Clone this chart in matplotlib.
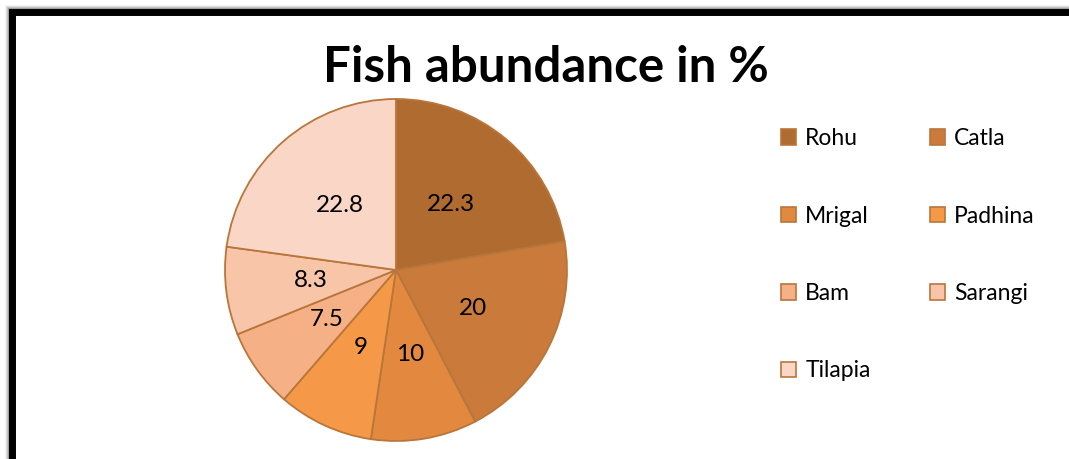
import matplotlib
matplotlib.use("Agg")
import matplotlib.pyplot as plt
from matplotlib.patches import Rectangle, Patch

species = ["Rohu", "Catla", "Mrigal", "Padhina", "Bam", "Sarangi", "Tilapia"]
abundance = [22.3, 20, 10, 9, 7.5, 8.3, 22.8]
colors = ["#B06B31", "#CA7A3A", "#E2893F", "#F59848", "#F6B086", "#F8C5A9", "#F9D6C5"]

plt.rcParams['font.family'] = ['Lato', 'DejaVu Sans']

W, H = 1069, 459
fig = plt.figure(figsize=(W / 100, H / 100), dpi=100)

# chart box border with soft shadow
for i, a in enumerate([0.05, 0.08, 0.12, 0.18]):
    off = 4 - i
    fig.add_artist(Rectangle((12 / W - off / W, -0.1), 1.2, (H - 12 + 0.1 * H + off) / H,
                             transform=fig.transFigure, fill=False,
                             edgecolor='black', alpha=a, linewidth=5, zorder=0))
fig.add_artist(Rectangle((12 / W, -0.1), 1.2, (H - 12) / H + 0.1,
                         transform=fig.transFigure, fill=False,
                         edgecolor='black', linewidth=5, zorder=1))

# pie
cx, cy, r = 396, 270, 171
ax = fig.add_axes([(cx - r) / W, (H - cy - r) / H, 2 * r / W, 2 * r / H])
wedges, texts = ax.pie(abundance, colors=colors, startangle=90, counterclock=False,
                       labels=[str(v) for v in abundance], labeldistance=0.5,
                       wedgeprops=dict(edgecolor='#B8763A', linewidth=1.3),
                       textprops=dict(fontsize=17.5, color='black'))
for t in texts:
    t.set_ha('center')
    t.set_va('center')
ax.set_xlim(-1, 1)
ax.set_ylim(-1, 1)
ax.set_aspect('equal')
ax.axis('off')

fig.text(546 / W, 1 - 68 / H, "Fish abundance in %", ha='center', va='center',
         fontsize=35.5, fontweight='bold')

# legend filled row by row like the original
order = [0, 2, 4, 6, 1, 3, 5]
handles = [Patch(facecolor=colors[i], edgecolor='#B8763A', linewidth=1.2) for i in order]
fig.legend(handles, [species[i] for i in order], ncol=2, loc='upper left',
           bbox_to_anchor=(772 / W, 1 - 119 / H), frameon=False, fontsize=16.5,
           handlelength=0.65, handleheight=0.65, handletextpad=0.4,
           labelspacing=2.46, columnspacing=2.6, borderaxespad=0)

fig.savefig("out.png", dpi=100)
